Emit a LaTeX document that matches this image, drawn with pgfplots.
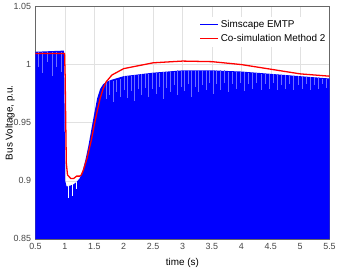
\documentclass[border=0pt]{standalone}
\usepackage{fontspec}
\setmainfont{Liberation Sans}
\usepackage{pgfplots}
\pgfplotsset{compat=1.18}
\definecolor{axgray}{RGB}{38,38,38}
\definecolor{tickgray}{RGB}{70,70,70}
\definecolor{gridgray}{RGB}{225,225,225}
\definecolor{streak}{RGB}{110,110,255}
\begin{document}
\begin{tikzpicture}
\begin{axis}[
  scale only axis,
  width=296bp, height=234bp,
  xmin=0.5, xmax=5.5, ymin=0.85, ymax=1.05,
  xtick={0.5,1,...,5.5}, ytick={0.85,0.9,0.95,1,1.05},
  xticklabels={0.5,1,1.5,2,2.5,3,3.5,4,4.5,5,5.5},
  yticklabels={0.85,0.9,0.95,1,1.05},
  grid=major, grid style={gridgray, line width=0.4pt},
  axis line style={axgray!70, line width=0.5pt},
  tick style={draw=none},
  ticklabel style={font=\fontsize{9}{10}\selectfont, text=tickgray},
  xticklabel style={yshift=-1bp},
  yticklabel style={xshift=-1bp},
  label style={font=\fontsize{10}{11}\selectfont, text=tickgray},
  xlabel={time (s)}, ylabel={Bus Voltage, p.u.},
  every axis x label/.style={at={(rel axis cs:0.5,0)}, yshift=-24bp, anchor=center},
  every axis y label/.style={at={(rel axis cs:0,0.5)}, xshift=-25.5bp, rotate=90, anchor=center},
  legend style={at={(rel axis cs:1,1)}, anchor=north east, yshift=-10bp,
    font=\fontsize{10}{11}\selectfont, draw=none, fill=white, inner xsep=2bp, inner ysep=2bp, row sep=1.5bp},
  legend cell align=left,
  legend image code/.code={\draw[#1] (0bp,0bp) -- (18bp,0bp);},
  unbounded coords=jump,
  after end axis/.code={\path (rel axis cs:0,0) ++(-35.7bp,-36bp) (rel axis cs:1,1) ++(7.3bp,4bp);},
]
\addlegendimage{draw=blue, line width=1pt}
\addlegendentry{Simscape EMTP}
\addlegendimage{draw=red, line width=1pt}
\addlegendentry{Co-simulation Method 2}
\addplot[fill=blue, draw=none, forget plot] coordinates {
(0.5,1.011)(0.985,1.012)(0.995,0.96)(1.005,0.90)(1.03,0.895)(1.1,0.896)(1.15,0.897)(1.2,0.899)(1.25,0.902)(1.3,0.908)(1.35,0.918)(1.4,0.93)(1.45,0.944)(1.5,0.958)(1.55,0.971)(1.6,0.979)(1.65,0.983)(1.7,0.985)(1.8,0.987)(2.0,0.990)(2.5,0.993)(3.0,0.995)(3.5,0.995)(4.0,0.994)(4.5,0.992)(5.0,0.990)(5.5,0.988)(5.5,0.80)(0.5,0.80)
} -- cycle;
\addplot[streak, line width=0.3pt, forget plot] coordinates {
(0.55,1.011)(0.55,0.998) (0.55,nan)
(0.62,1.011)(0.62,0.993) (0.62,nan)
(0.70,1.011)(0.70,1.002) (0.70,nan)
(0.78,1.011)(0.78,0.990) (0.78,nan)
(0.85,1.011)(0.85,0.998) (0.85,nan)
(0.93,1.011)(0.93,0.994) (0.93,nan)
(1.70,0.985)(1.70,0.970) (1.70,nan)
(1.76,0.986)(1.76,0.974) (1.76,nan)
(1.82,0.986)(1.82,0.968) (1.82,nan)
(1.88,0.987)(1.88,0.976) (1.88,nan)
(1.94,0.988)(1.94,0.972) (1.94,nan)
(2.00,0.990)(2.00,0.978) (2.00,nan)
(2.06,0.990)(2.06,0.971) (2.06,nan)
(2.12,0.990)(2.12,0.977) (2.12,nan)
(2.18,0.991)(2.18,0.969) (2.18,nan)
(2.24,0.991)(2.24,0.979) (2.24,nan)
(2.30,0.992)(2.30,0.974) (2.30,nan)
(2.36,0.992)(2.36,0.980) (2.36,nan)
(2.42,0.992)(2.42,0.972) (2.42,nan)
(2.48,0.993)(2.48,0.979) (2.48,nan)
(2.55,0.993)(2.55,0.975) (2.55,nan)
(2.61,0.993)(2.61,0.981) (2.61,nan)
(2.67,0.994)(2.67,0.970) (2.67,nan)
(2.73,0.994)(2.73,0.980) (2.73,nan)
(2.79,0.994)(2.79,0.976) (2.79,nan)
(2.85,0.994)(2.85,0.982) (2.85,nan)
(2.91,0.995)(2.91,0.974) (2.91,nan)
(2.97,0.995)(2.97,0.981) (2.97,nan)
(3.03,0.995)(3.03,0.977) (3.03,nan)
(3.09,0.995)(3.09,0.983) (3.09,nan)
(3.15,0.995)(3.15,0.972) (3.15,nan)
(3.21,0.995)(3.21,0.981) (3.21,nan)
(3.27,0.995)(3.27,0.976) (3.27,nan)
(3.33,0.995)(3.33,0.982) (3.33,nan)
(3.40,0.995)(3.40,0.978) (3.40,nan)
(3.46,0.995)(3.46,0.984) (3.46,nan)
(3.52,0.995)(3.52,0.975) (3.52,nan)
(3.58,0.995)(3.58,0.983) (3.58,nan)
(3.64,0.995)(3.64,0.978) (3.64,nan)
(3.70,0.995)(3.70,0.984) (3.70,nan)
(3.77,0.994)(3.77,0.976) (3.77,nan)
(3.84,0.994)(3.84,0.983) (3.84,nan)
(3.91,0.994)(3.91,0.979) (3.91,nan)
(3.98,0.994)(3.98,0.984) (3.98,nan)
(4.05,0.994)(4.05,0.977) (4.05,nan)
(4.12,0.993)(4.12,0.983) (4.12,nan)
(4.19,0.993)(4.19,0.979) (4.19,nan)
(4.26,0.993)(4.26,0.984) (4.26,nan)
(4.33,0.992)(4.33,0.978) (4.33,nan)
(4.40,0.992)(4.40,0.983) (4.40,nan)
(4.47,0.992)(4.47,0.979) (4.47,nan)
(4.54,0.992)(4.54,0.984) (4.54,nan)
(4.61,0.991)(4.61,0.978) (4.61,nan)
(4.68,0.991)(4.68,0.982) (4.68,nan)
(4.75,0.991)(4.75,0.979) (4.75,nan)
(4.82,0.990)(4.82,0.983) (4.82,nan)
(4.89,0.990)(4.89,0.978) (4.89,nan)
(4.96,0.990)(4.96,0.982) (4.96,nan)
(5.03,0.990)(5.03,0.979) (5.03,nan)
(5.10,0.989)(5.10,0.983) (5.10,nan)
(5.17,0.989)(5.17,0.978) (5.17,nan)
(5.24,0.989)(5.24,0.982) (5.24,nan)
(5.31,0.989)(5.31,0.979) (5.31,nan)
(5.38,0.988)(5.38,0.983) (5.38,nan)
(5.45,0.988)(5.45,0.980)
};
\addplot[white, line width=0.4pt, forget plot] coordinates {
(1.05,0.896)(1.05,0.885) (1.05,nan)
(1.13,0.897)(1.13,0.887) (1.13,nan)
(1.20,0.899)(1.20,0.893)
};
\addplot[red, line width=1.3pt, forget plot] coordinates {
(0.5,1.0095)(0.99,1.0095)(0.995,1.0095)(1.005,0.99)(1.015,0.95)(1.025,0.915)(1.045,0.905)(1.1,0.902)(1.15,0.902)(1.2,0.904)(1.25,0.904)(1.28,0.905)(1.32,0.91)(1.38,0.92)(1.45,0.935)(1.5,0.948)(1.55,0.96)(1.6,0.971)(1.65,0.979)(1.7,0.985)(1.8,0.991)(2.0,0.9965)(2.5,1.0015)(3.0,1.003)(3.5,1.0025)(4.0,1.0)(4.5,0.996)(5.0,0.992)(5.5,0.990)
};
\end{axis}
\end{tikzpicture}
\end{document}
